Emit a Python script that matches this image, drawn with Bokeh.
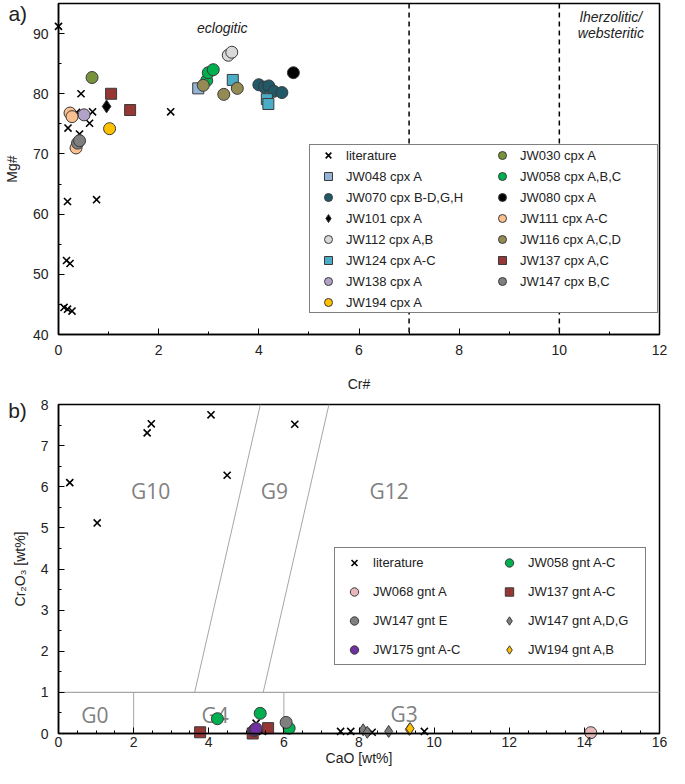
import numpy as np
from bokeh.plotting import figure
from bokeh.models import Range1d, Span, Legend, LegendItem, Label, SingleIntervalTicker
from bokeh.layouts import column
from bokeh.embed import file_html
from bokeh.resources import INLINE
from bokeh.core.properties import value

FONT = "Liberation Sans"
EDGE = "#3a3a3a"

# ---------------- Panel a: clinopyroxene, Cr# vs Mg# ----------------
lit_a_cr = [0.00, 0.45, 0.19, 0.42, 0.62, 0.68, 0.36, 2.24, 0.18, 0.76, 0.16, 0.23, 0.11, 0.18, 0.27]
lit_a_mg = [91.2, 80.0, 74.3, 73.3, 75.1, 77.0, 76.9, 77.0, 62.1, 62.4, 52.3, 51.8, 44.5, 44.2, 43.9]

jw048_cr = [2.79]; jw048_mg = [80.9]
jw070_cr = [4.00, 4.11, 4.20, 4.30, 4.46]; jw070_mg = [81.5, 81.1, 81.3, 80.4, 80.2]
jw101_cr = [0.96]; jw101_mg = [77.9]
jw112_cr = [3.39, 3.46]; jw112_mg = [86.4, 86.9]
jw124_cr = [3.48, 4.16, 4.19]; jw124_mg = [82.3, 79.1, 78.3]
jw138_cr = [0.51]; jw138_mg = [76.5]
jw194_cr = [1.02]; jw194_mg = [74.2]
jw030_cr = [0.67]; jw030_mg = [82.7]
jw058_cr = [2.96, 2.99, 3.09]; jw058_mg = [82.2, 83.5, 84.0]
jw080_cr = [4.69]; jw080_mg = [83.5]
jw111_cr = [0.23, 0.27, 0.35]; jw111_mg = [76.8, 76.2, 71.0]
jw116_cr = [2.89, 3.30, 3.57]; jw116_mg = [81.4, 79.9, 80.9]
jw137_cr = [1.05, 1.43]; jw137_mg = [80.0, 77.3]
jw147_cr = [0.38, 0.42]; jw147_mg = [71.8, 72.2]

field_bounds_cr = [7, 10]

# ---------------- Panel b: garnet, CaO vs Cr2O3 ----------------
lit_b_cao = [0.30, 1.03, 2.36, 2.47, 4.06, 4.49, 6.29, 5.26, 5.43, 7.51, 7.78, 8.35, 9.74]
lit_b_cr = [6.10, 5.12, 7.31, 7.53, 7.75, 6.28, 7.52, 0.25, 0.05, 0.05, 0.05, 0.03, 0.05]

g058_cao = [4.23, 5.37, 6.14]; g058_cr = [0.36, 0.49, 0.13]
g068_cao = [14.17]; g068_cr = [0.02]
g137_cao = [3.77, 5.17, 5.58]; g137_cr = [0.03, 0.00, 0.13]
g147e_cao = [6.06]; g147e_cr = [0.27]
g147adg_cao = [8.11, 8.22, 8.79]; g147adg_cr = [0.09, 0.03, 0.05]
g175_cao = [5.20, 5.23, 5.26]; g175_cr = [0.07, 0.10, 0.12]
g194_cao = [9.34, 9.36]; g194_cr = [0.10, 0.12]

# Grütter et al. classification boundaries
bnd_diag_cr = [1, 8]
bnd_g10_g9_cao = [3.625, 5.375]
bnd_g9_g12_cao = [5.45, 7.2]
bnd_h_cao = [0, 16]
bnd_h_cr = [1, 1]
bnd_v_cao = [2, 6]
bnd_v_cr = [0, 1]
region_names = ["G10", "G9", "G12", "G0", "G4", "G3"]
region_cao = [2.45, 5.75, 8.8, 0.97, 4.17, 9.2]
region_cr = [5.9, 5.9, 5.9, 0.46, 0.46, 0.48]

# panel tags
tag_a = ["a)"]
tag_b = ["b)"]


def style(p, xt, yt):
    p.outline_line_color = "black"
    p.outline_line_width = 1.5
    p.outline_line_alpha = 1
    p.xgrid.visible = False
    p.ygrid.visible = False
    p.xaxis.ticker = xt
    p.yaxis.ticker = yt
    for ax in (p.xaxis[0], p.yaxis[0]):
        ax.axis_line_color = "black"
        ax.axis_line_width = 1.5
        ax.major_tick_in = 6
        ax.major_tick_out = 0
        ax.minor_tick_in = 3
        ax.minor_tick_out = 0
        ax.major_tick_line_color = "black"
        ax.minor_tick_line_color = "black"
        ax.major_label_text_font = FONT
        ax.major_label_text_font_size = "14px"
        ax.major_label_text_color = "#222222"
        ax.axis_label_text_font = FONT
        ax.axis_label_text_font_size = "14px"
        ax.axis_label_text_font_style = "normal"
        ax.axis_label_text_color = "#222222"


def pts(p, x, y, marker, color, size, lw=1.0):
    return p.scatter(x, y, marker=marker, size=size, fill_color=color,
                     line_color=EDGE if marker != "x" else "black", line_width=lw,
                     level="guide")


# ---------- figure a ----------
pa = figure(width=669, height=394, output_backend="svg", toolbar_location=None,
            x_range=Range1d(0, 12), y_range=Range1d(40, 95),
            min_border_left=52, min_border_right=10, min_border_top=3, min_border_bottom=30)
style(pa, SingleIntervalTicker(interval=2, num_minor_ticks=2),
      SingleIntervalTicker(interval=10, num_minor_ticks=2))
pa.xaxis.axis_label = "Cr#"
pa.yaxis.axis_label = "Mg#"
pa.xaxis.major_label_standoff = 10
pa.xaxis.axis_label_standoff = 18
pa.yaxis.major_label_standoff = 10
pa.yaxis.axis_label_standoff = 10

for b in field_bounds_cr:
    pa.add_layout(Span(location=b, dimension="height", line_color="black",
                       line_width=1.5, line_dash="5 4"))

RA = pts(pa, lit_a_cr, lit_a_mg, "x", "black", 10, lw=1.6)
R048 = pts(pa, jw048_cr, jw048_mg, "square", "#95B3D7", 11)
R070 = pts(pa, jw070_cr, jw070_mg, "circle", "#215968", 12)
R101 = pts(pa, jw101_cr, jw101_mg, "diamond", "black", 13)
R112 = pts(pa, jw112_cr, jw112_mg, "circle", "#D9D9D9", 12)
R124 = pts(pa, jw124_cr, jw124_mg, "square", "#4BACC6", 11)
R138 = pts(pa, jw138_cr, jw138_mg, "circle", "#B3A2C7", 12)
R194 = pts(pa, jw194_cr, jw194_mg, "circle", "#FFC000", 12)
R030 = pts(pa, jw030_cr, jw030_mg, "circle", "#77933C", 12)
R058 = pts(pa, jw058_cr, jw058_mg, "circle", "#00B050", 12)
R080 = pts(pa, jw080_cr, jw080_mg, "circle", "black", 12)
R111 = pts(pa, jw111_cr, jw111_mg, "circle", "#FAC090", 12)
R116 = pts(pa, jw116_cr, jw116_mg, "circle", "#948A54", 12)
R137 = pts(pa, jw137_cr, jw137_mg, "square", "#953735", 11)
R147 = pts(pa, jw147_cr, jw147_mg, "circle", "#7F7F7F", 12)

items_a = [
    ("literature", RA), ("JW048 cpx A", R048), ("JW070 cpx B-D,G,H", R070),
    ("JW101 cpx A", R101), ("JW112 cpx A,B", R112), ("JW124 cpx A-C", R124),
    ("JW138 cpx A", R138), ("JW194 cpx A", R194),
    ("JW030 cpx A", R030), ("JW058 cpx A,B,C", R058), ("JW080 cpx A", R080),
    ("JW111 cpx A-C", R111), ("JW116 cpx A,C,D", R116), ("JW137 cpx A,C", R137),
    ("JW147 cpx B,C", R147),
]
leg_a = Legend(items=[LegendItem(label=l, renderers=[r]) for l, r in items_a],
               location=(251, 21), ncols=2,
               label_text_font=FONT, label_text_font_size="13px", label_text_color="#222222",
               glyph_width=36, glyph_height=20, label_height=20, label_width=137,
               label_standoff=0, spacing=1, padding=0, margin=0,
               border_line_color="black", border_line_width=1.5,
               background_fill_alpha=1.0)
pa.add_layout(leg_a, "center")

for txt, x, y in [("eclogitic", 3.27, 91.0), ("lherzolitic/", 11.03, 92.7), ("websteritic", 11.03, 90.1)]:
    pa.add_layout(Label(x=x, y=y, text=txt, text_font=FONT, text_font_size="14px",
                        text_font_style="italic", text_align="center", text_baseline="middle",
                        text_color="#222222"))
# panel tag, drawn in the left margin (guide level is not clipped to the frame)
pa.text(x=[-1.0], y=[93.4], text=tag_a, text_font=value(FONT), text_font_size="21px",
        text_color="#222222", text_baseline="middle", level="guide")

# ---------- figure b ----------
pb = figure(width=669, height=374, output_backend="svg", toolbar_location=None,
            x_range=Range1d(0, 16), y_range=Range1d(0, 8),
            min_border_left=52, min_border_right=10, min_border_top=10, min_border_bottom=20)
style(pb, SingleIntervalTicker(interval=2, num_minor_ticks=4),
      SingleIntervalTicker(interval=1, num_minor_ticks=2))
pb.xaxis.axis_label = "CaO [wt%]"
pb.yaxis.axis_label = "Cr\u2082O\u2083 [wt%]"
pb.xaxis.major_label_standoff = 3
pb.xaxis.axis_label_standoff = 0
pb.yaxis.major_label_standoff = 10
pb.yaxis.axis_label_standoff = 10

GRAY = "#A6A6A6"
pb.line(bnd_g10_g9_cao, bnd_diag_cr, line_color=GRAY, line_width=1)
pb.line(bnd_g9_g12_cao, bnd_diag_cr, line_color=GRAY, line_width=1)
pb.line(bnd_h_cao, bnd_h_cr, line_color=GRAY, line_width=1.2)
pb.segment(x0=bnd_v_cao, y0=[bnd_v_cr[0]] * 2, x1=bnd_v_cao, y1=[bnd_v_cr[1]] * 2,
           line_color=GRAY, line_width=1)
pb.text(region_cao, region_cr, text=region_names, text_font=value("Open Sans"),
        text_font_size="21px", text_color="#808080", text_align="center",
        text_baseline="middle")

RB = pts(pb, lit_b_cao, lit_b_cr, "x", "black", 10, lw=1.6)
G058 = pts(pb, g058_cao, g058_cr, "circle", "#00B050", 12)
G068 = pts(pb, g068_cao, g068_cr, "circle", "#E6B9B8", 12)
G137 = pts(pb, g137_cao, g137_cr, "square", "#953735", 11)
G147E = pts(pb, g147e_cao, g147e_cr, "circle", "#7F7F7F", 12)
G147 = pts(pb, g147adg_cao, g147adg_cr, "diamond", "#7F7F7F", 12)
G175 = pts(pb, g175_cao, g175_cr, "circle", "#7030A0", 12)
G194 = pts(pb, g194_cao, g194_cr, "diamond", "#FFC000", 12)

items_b = [
    ("literature", RB), ("JW068 gnt A", G068), ("JW147 gnt E", G147E), ("JW175 gnt A-C", G175),
    ("JW058 gnt A-C", G058), ("JW137 gnt A-C", G137), ("JW147 gnt A,D,G", G147),
    ("JW194 gnt A,B", G194),
]
leg_b = Legend(items=[LegendItem(label=l, renderers=[r]) for l, r in items_b],
               location=(276, 68), ncols=2,
               label_text_font=FONT, label_text_font_size="13px", label_text_color="#222222",
               glyph_width=30, glyph_height=21, label_height=21, label_width=113,
               label_standoff=4, spacing=8, padding=4, margin=0,
               border_line_color="black", border_line_width=1.5,
               background_fill_alpha=1.0)
pb.add_layout(leg_b, "center")
pb.text(x=[-1.34], y=[7.85], text=tag_b, text_font=value(FONT), text_font_size="21px",
        text_color="#222222", text_baseline="middle", level="guide")

layout = column(pa, pb, spacing=0)
open("out.html", "w").write(file_html(layout, INLINE))
